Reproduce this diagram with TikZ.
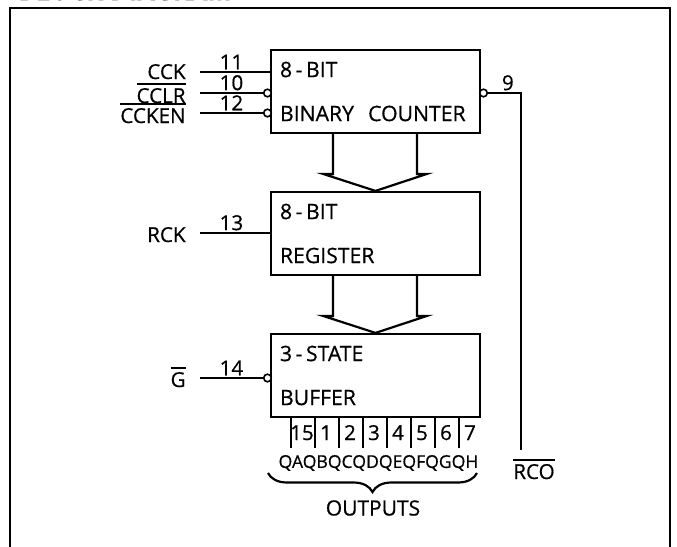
\documentclass[tikz,border=0pt]{standalone}
\usepackage{fontspec}
\setmainfont{Open Sans}[FakeBold=0.6]
\usepackage{tikz}
\usetikzlibrary{calc,decorations.pathreplacing}

% overline with a heavier rule
\newcommand{\ovl}[1]{\setbox0\hbox{#1}\rlap{\rule[9pt]{\wd0}{0.9pt}}\box0}

\begin{document}
\begin{tikzpicture}[x=0.5pt, y=-0.5pt,
  blk/.style={rectangle, draw, line width=1.1pt, minimum width=104.5pt, minimum height=41.5pt,
              text width=95.5pt, inner xsep=4.5pt, align=left, font=\fontsize{10.6}{22}\selectfont},
  wire/.style={line width=1.1pt},
  sig/.style={font=\fontsize{10.3}{12}\selectfont, inner sep=0pt},
  num/.style={font=\fontsize{10.3}{12}\selectfont, inner sep=0pt},
  bub/.style={circle, draw, fill=white, line width=0.8pt, minimum size=3.8pt, inner sep=0pt},
  barrow/.style={line width=1.1pt, line join=miter},
]
  \useasboundingbox (0,0) rectangle (677,547);

  % Frame and title
  \draw[line width=1.3pt] (10,8) rectangle (670,570);
  \node[anchor=base west, inner sep=0pt, font=\bfseries\fontsize{12.8}{14}\selectfont] (title) at (18,0) {BLOCK DIAGRAM};

  % Blocks
  \node[blk] (cnt) at (375.5, 91.5) {8\,-\,BIT\\BINARY~~COUNTER};
  \node[blk] (reg) at (375.5,233.5) {8\,-\,BIT\\REGISTER};
  \node[blk] (buf) at (375.5,375.5) {3\,-\,STATE\\BUFFER};

  % Input labels
  \node[sig, anchor=base east] (cck)   at (186, 79) {CCK};
  \node[sig, anchor=base east] (cclr)  at (186,103) {\ovl{CCLR}};
  \node[sig, anchor=base east] (ccken) at (186,123) {\ovl{CCKEN}};
  \node[sig, anchor=base east] (rck)   at (186,242) {RCK};
  \node[sig, anchor=base east] (gbar)  at (186,387) {\ovl{G}};
  \node[sig, anchor=base] (rco) at (534,479) {\ovl{RCO}};

  \coordinate (cckin)   at (200, 72);
  \coordinate (cclrin)  at (200, 93);
  \coordinate (cckenin) at (200,113);
  \coordinate (rckin)   at (200,233);
  \coordinate (gin)     at (200,378);
  \coordinate (rcoend)  at (521,450);

  % Inversion bubbles
  \node[bub] (cclrb)  at (267.5, 93) {};
  \node[bub] (cckenb) at (267.5,113) {};
  \node[bub] (gb)     at (267.5,378) {};
  \node[bub] (rcob)   at (483.5, 93) {};

  % Wires
  \draw[wire] (cckin) -- node[num, above=0.8pt, pos=0.45] {11} (cckin -| cnt.west);
  \draw[wire] (cclrin) -- node[num, above=0.8pt, pos=0.5] {10} (cclrb);
  \draw[wire] (cckenin) -- node[num, above=0.8pt, pos=0.5] {12} (cckenb);
  \draw[wire] (rckin) -- node[num, above=0.8pt, pos=0.45] {13} (rckin -| reg.west);
  \draw[wire] (gin) -- node[num, above=0.8pt, pos=0.5] {14} (gb);
  \draw[wire] (rcob) -| node[num, above=0.8pt, pos=0.3] {9} (rcoend);

  % Data paths
  \draw[barrow] ($(cnt.south)+(-42.5,0)$) -- ($(reg.north)+(-42.5,-17)$) -- ++(-10,0) -- (reg.north)
    -- ($(reg.north)+(51.5,-17)$) -- ++(-10,0) -- ($(cnt.south)+(41.5,0)$);
  \draw[barrow] ($(reg.south)+(-42.5,0)$) -- ($(buf.north)+(-42.5,-17)$) -- ++(-10,0) -- (buf.north)
    -- ($(buf.north)+(51.5,-17)$) -- ++(-10,0) -- ($(reg.south)+(41.5,0)$);

  % Outputs
  \foreach \n [count=\i from 0] in {15,1,2,3,4,5,6,7} {
    \draw[wire] ($(buf.south west)+(21+24*\i,0)$) -- ++(0,30);
    \node[num, anchor=base] (p\i) at (302+24*\i,440) {\n};
  }
  \node[inner sep=0pt, font=\fontsize{8.8}{10}\selectfont] (qs) at (378.5,463) {QAQBQCQDQEQFQGQH};
  \coordinate (bl) at (268,473);
  \coordinate (br) at (477,473);
  \draw[wire, decorate, decoration={brace, amplitude=9.5pt}] (br) -- (bl);
  \node[inner sep=0pt, font=\fontsize{10.5}{12}\selectfont] (outs) at (373,508) {OUTPUTS};
\end{tikzpicture}
\end{document}
